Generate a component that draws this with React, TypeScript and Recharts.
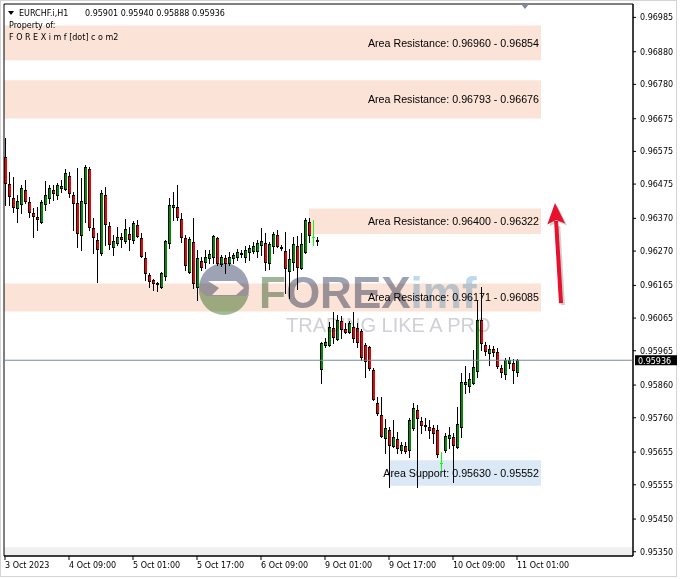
import React from 'react';
import { ComposedChart, Bar, XAxis, YAxis, ReferenceArea, ReferenceLine } from 'recharts';

// EURCHF.i H1, one value per hourly bar (3 Oct 17:00 .. 11 Oct 01:00)
const opens = [
  0.96558, 0.96475, 0.96432, 0.96402, 0.96414, 0.96457, 0.96420, 0.96386, 0.96374, 0.96359,
  0.96414, 0.96432, 0.96457, 0.96441, 0.96463, 0.96460, 0.96499, 0.96441, 0.96417, 0.96319,
  0.96417, 0.96521, 0.96340, 0.96304, 0.96264, 0.96441, 0.96346, 0.96282, 0.96294, 0.96313,
  0.96301, 0.96322, 0.96304, 0.96350, 0.96310, 0.96248, 0.96196, 0.96181, 0.96172, 0.96160,
  0.96193, 0.96294, 0.96405, 0.96405, 0.96368, 0.96310, 0.96206, 0.96298, 0.96160, 0.96239,
  0.96236, 0.96248, 0.96252, 0.96310, 0.96230, 0.96248, 0.96233, 0.96248, 0.96252, 0.96261,
  0.96252, 0.96267, 0.96270, 0.96270, 0.96288, 0.96294, 0.96233, 0.96285, 0.96319, 0.96282,
  0.96270, 0.96209, 0.96236, 0.96285, 0.96218, 0.96267, 0.96359, 0.96313, 0.96304, 0.95909,
  0.95982, 0.95982, 0.96034, 0.96001, 0.96056, 0.96031, 0.96022, 0.96037, 0.96034, 0.96025,
  0.95982, 0.95976, 0.95906, 0.95805, 0.95768, 0.95698, 0.95722, 0.95673, 0.95695, 0.95661,
  0.95673, 0.95661, 0.95728, 0.95783, 0.95750, 0.95737, 0.95731, 0.95728, 0.95722, 0.95621,
  0.95661, 0.95698, 0.95701, 0.95670, 0.95731, 0.95863, 0.95857, 0.95866, 0.95903, 0.96059,
  0.95982, 0.95958, 0.95970, 0.95961, 0.95912, 0.95894, 0.95927, 0.95927, 0.95901,
];
const highs = [
  0.96616, 0.96512, 0.96496, 0.96441, 0.96472, 0.96487, 0.96435, 0.96402, 0.96405, 0.96426,
  0.96484, 0.96472, 0.96472, 0.96478, 0.96487, 0.96521, 0.96512, 0.96450, 0.96524, 0.96493,
  0.96533, 0.96527, 0.96371, 0.96325, 0.96457, 0.96466, 0.96359, 0.96319, 0.96343, 0.96325,
  0.96368, 0.96343, 0.96362, 0.96365, 0.96325, 0.96267, 0.96203, 0.96184, 0.96175, 0.96206,
  0.96304, 0.96432, 0.96450, 0.96472, 0.96386, 0.96319, 0.96313, 0.96371, 0.96273, 0.96252,
  0.96273, 0.96273, 0.96319, 0.96313, 0.96258, 0.96258, 0.96267, 0.96264, 0.96276, 0.96273,
  0.96285, 0.96288, 0.96298, 0.96304, 0.96340, 0.96325, 0.96298, 0.96328, 0.96334, 0.96288,
  0.96328, 0.96276, 0.96313, 0.96316, 0.96325, 0.96371, 0.96371, 0.96365, 0.96313, 0.95991,
  0.96004, 0.96053, 0.96083, 0.96074, 0.96071, 0.96050, 0.96056, 0.96083, 0.96050, 0.96031,
  0.95988, 0.95979, 0.95912, 0.95823, 0.95823, 0.95756, 0.95731, 0.95753, 0.95716, 0.95685,
  0.95685, 0.95759, 0.95805, 0.95799, 0.95762, 0.95759, 0.95753, 0.95737, 0.95737, 0.95655,
  0.95713, 0.95731, 0.95713, 0.95793, 0.95897, 0.95918, 0.95897, 0.95967, 0.96120, 0.96160,
  0.95991, 0.95982, 0.95979, 0.95973, 0.95921, 0.95943, 0.95946, 0.95940, 0.95940,
];
const lows = [
  0.96411, 0.96411, 0.96389, 0.96359, 0.96386, 0.96417, 0.96374, 0.96313, 0.96334, 0.96356,
  0.96395, 0.96417, 0.96426, 0.96429, 0.96450, 0.96457, 0.96435, 0.96334, 0.96282, 0.96273,
  0.96359, 0.96334, 0.96264, 0.96175, 0.96258, 0.96288, 0.96276, 0.96258, 0.96288, 0.96282,
  0.96294, 0.96273, 0.96294, 0.96313, 0.96252, 0.96181, 0.96160, 0.96151, 0.96148, 0.96157,
  0.96181, 0.96279, 0.96365, 0.96365, 0.96298, 0.96212, 0.96203, 0.96157, 0.96120, 0.96212,
  0.96218, 0.96233, 0.96233, 0.96227, 0.96224, 0.96203, 0.96227, 0.96233, 0.96242, 0.96252,
  0.96236, 0.96242, 0.96264, 0.96252, 0.96258, 0.96212, 0.96215, 0.96264, 0.96282, 0.96273,
  0.96141, 0.96126, 0.96212, 0.96154, 0.96215, 0.96264, 0.96298, 0.96288, 0.96288, 0.95866,
  0.95976, 0.95979, 0.95988, 0.95998, 0.96004, 0.96019, 0.96019, 0.95991, 0.95976, 0.95936,
  0.95884, 0.95906, 0.95814, 0.95768, 0.95701, 0.95652, 0.95548, 0.95670, 0.95652, 0.95652,
  0.95652, 0.95640, 0.95722, 0.95548, 0.95713, 0.95722, 0.95698, 0.95682, 0.95640, 0.95600,
  0.95655, 0.95667, 0.95563, 0.95667, 0.95701, 0.95835, 0.95838, 0.95863, 0.95884, 0.95967,
  0.95952, 0.95921, 0.95949, 0.95912, 0.95884, 0.95878, 0.95912, 0.95866, 0.95888,
];
const closes = [
  0.96478, 0.96438, 0.96405, 0.96423, 0.96463, 0.96423, 0.96389, 0.96377, 0.96368, 0.96420,
  0.96441, 0.96463, 0.96447, 0.96472, 0.96469, 0.96509, 0.96447, 0.96417, 0.96325, 0.96423,
  0.96527, 0.96343, 0.96313, 0.96276, 0.96447, 0.96353, 0.96291, 0.96301, 0.96313, 0.96307,
  0.96337, 0.96307, 0.96356, 0.96316, 0.96255, 0.96203, 0.96178, 0.96172, 0.96169, 0.96203,
  0.96301, 0.96411, 0.96411, 0.96374, 0.96313, 0.96227, 0.96307, 0.96172, 0.96248, 0.96221,
  0.96252, 0.96261, 0.96316, 0.96233, 0.96252, 0.96233, 0.96252, 0.96258, 0.96267, 0.96264,
  0.96273, 0.96279, 0.96285, 0.96294, 0.96301, 0.96236, 0.96291, 0.96322, 0.96285, 0.96279,
  0.96218, 0.96245, 0.96291, 0.96221, 0.96291, 0.96365, 0.96319, 0.96313, 0.96301, 0.95988,
  0.95991, 0.96037, 0.96007, 0.96059, 0.96031, 0.96022, 0.96050, 0.96004, 0.95991, 0.95946,
  0.95933, 0.95912, 0.95817, 0.95774, 0.95704, 0.95728, 0.95676, 0.95701, 0.95667, 0.95676,
  0.95658, 0.95753, 0.95790, 0.95759, 0.95737, 0.95734, 0.95722, 0.95713, 0.95649, 0.95621,
  0.95704, 0.95707, 0.95676, 0.95741, 0.95869, 0.95869, 0.95878, 0.95915, 0.96059, 0.95988,
  0.95964, 0.95970, 0.95961, 0.95918, 0.95900, 0.95936, 0.95936, 0.95906, 0.95936,
];

const xTickIdx = [1, 17, 33, 49, 65, 81, 97, 113, 129];
const xTickLabels = ['3 Oct 2023', '4 Oct 09:00', '5 Oct 01:00', '5 Oct 17:00', '6 Oct 09:00', '9 Oct 01:00', '9 Oct 17:00', '10 Oct 09:00', '11 Oct 01:00'];
const yTicks = [
  0.96985, 0.9688, 0.9678, 0.96675, 0.96575, 0.96475, 0.9637, 0.9627, 0.96165,
  0.96065, 0.95965, 0.9586, 0.9576, 0.95655, 0.95555, 0.9545, 0.9535,
];

// drawn zones (bar index start/end, price top/bottom)
const zoneKind = ['Resistance', 'Resistance', 'Resistance', 'Resistance', 'Support'];
const zoneHigh = [0.9696, 0.96793, 0.964, 0.96171, 0.9563];
const zoneLow = [0.96854, 0.96676, 0.96322, 0.96085, 0.95552];
const zoneFrom = [0.75, 0.75, 77, 0.75, 97];
const zoneTo = [135, 135, 135, 135, 135];

const arrowFrom = { i: 140, p: 0.96111 };
const arrowTo = { i: 138.5, p: 0.96417 };

const X_DOMAIN: [number, number] = [0.75, 158];
const Y_DOMAIN: [number, number] = [0.95337, 0.97026];
const STRIP_TOP = 0.95364;

const data = opens.map((o, k) => ({ i: k + 1, o, h: highs[k], l: lows[k], c: closes[k] }));
const lastClose = closes[closes.length - 1];

const AXIS_FONT = '"DejaVu Sans", Tahoma, sans-serif';
const OBJ_FONT = '"Liberation Sans", Arial, sans-serif';

const Candle = (props: any) => {
  const { x, y, width, height, payload } = props;
  if (!payload || height == null || isNaN(y)) return null;
  const { o, h, l, c } = payload;
  const k = height / (h - l);
  const py = (v: number) => y + (h - v) * k;
  const cx = Math.round(x + width / 2);
  const doji = o === c;
  const top = Math.round(py(Math.max(o, c)));
  const bot = Math.round(py(Math.min(o, c)));
  return (
    <g shapeRendering="crispEdges">
      <line x1={cx + 0.5} x2={cx + 0.5} y1={Math.round(y)} y2={Math.round(y + height) + 1} stroke={doji ? '#00ff00' : '#000'} />
      {doji ? (
        <line x1={cx - 1} x2={cx + 2} y1={top + 0.5} y2={top + 0.5} stroke="#00ff00" />
      ) : (
        <>
          <rect x={cx - 1} y={top} width={3} height={bot - top + 1} fill="#000" />
          {bot - top >= 2 && (
            <rect x={cx} y={top + 1} width={2} height={bot - top - 1} fill={c > o ? '#008a00' : '#f00000'} />
          )}
        </>
      )}
    </g>
  );
};

const XTick = (p: any) => {
  const k = xTickIdx.indexOf(p.payload.value);
  return (
    <text x={p.x} y={p.y + 6} fontSize={8} fontFamily={AXIS_FONT} fill="#000">
      {xTickLabels[k]}
    </text>
  );
};

const PriceTag = (p: any) => {
  const vb = p.viewBox || {};
  const tx = vb.x + vb.width + 2;
  return (
    <g>
      <rect x={tx} y={vb.y - 5} width={42} height={10} fill="#000" />
      <text x={tx + 3} y={vb.y + 3.5} fontSize={8} fontFamily={AXIS_FONT} fill="#fff">
        {lastClose.toFixed(5)}
      </text>
    </g>
  );
};

const ArrowShape = (p: any) => {
  const { x1, y1, x2, y2 } = p;
  if (x1 == null) return null;
  const dx = x2 - x1;
  const dy = y2 - y1;
  const len = Math.hypot(dx, dy);
  const ux = dx / len;
  const uy = dy / len;
  const head = 21;
  const half = 9;
  const bx = x2 - ux * head;
  const by = y2 - uy * head;
  const nx = -uy;
  const ny = ux;
  const pts = `${x2},${y2} ${bx + nx * half},${by + ny * half} ${bx + ux * 4},${by + uy * 4} ${bx - nx * half},${by - ny * half}`;
  return (
    <g>
      <g transform="translate(2,2)" opacity={0.18}>
        <line x1={x1} y1={y1} x2={bx} y2={by} stroke="#000" strokeWidth={4} />
        <polygon points={pts} fill="#000" />
      </g>
      <line x1={x1} y1={y1} x2={bx + ux * 3} y2={by + uy * 3} stroke="#e8102c" strokeWidth={4} />
      <polygon points={pts} fill="#e8102c" />
    </g>
  );
};

const Watermark = () => (
  <svg width={681} height={579} style={{ position: 'absolute', left: 0, top: 0, mixBlendMode: 'multiply', pointerEvents: 'none' }}>
    <g opacity={0.85}>
      <circle cx={224} cy={288} r={25} fill="#8c93a8" />
      <path d="M199,290 A25,25 0 0,0 249,290 L249,296 L206,296 Z" fill="#8fb384" />
      <path d="M208,281 L236,281 L244,288 L236,295 L212,295 L219,288 Z" fill="#ffffff" />
      <text x={259} y={308} fontSize={44} fontWeight="bold" fontFamily={OBJ_FONT}>
        <tspan fill="#8fa98a">F</tspan>
        <tspan fill="#8c93a6">OREX</tspan>
        <tspan fill="#b3d3ea">imf</tspan>
      </text>
      <text x={286} y={332} fontSize={20} fontFamily={OBJ_FONT} fill="#c7c9ce">
        TRADING LIKE A PRO
      </text>
    </g>
  </svg>
);

const Header = () => (
  <svg width={681} height={579} style={{ position: 'absolute', left: 0, top: 0, pointerEvents: 'none' }}>
    <polygon points="8,11 14,11 11,15" fill="#000" />
    <text x={19} y={16} fontSize={8} fontFamily={AXIS_FONT} fill="#000">EURCHF.i,H1</text>
    <text x={85} y={16} fontSize={8} fontFamily={AXIS_FONT} fill="#000">0.95901 0.95940 0.95888 0.95936</text>
    <text x={9} y={28} fontSize={8} fontFamily={AXIS_FONT} fill="#000">Property of:</text>
    <text x={9} y={40} fontSize={8} fontFamily={AXIS_FONT} fill="#000">F O R E X i m f [dot] c o m2</text>
    <polygon points="521,4 529,4 525,9" fill="#7d8a99" />
  </svg>
);

export default function App() {
  return (
    <div style={{ position: 'absolute', left: 0, top: 0, width: 681, height: 579, background: '#fff' }}>
      <div style={{ position: 'absolute', left: 0, top: 0, width: 677, height: 577, border: '1px solid #d4d4d4', boxSizing: 'border-box' }} />
      <ComposedChart width={681} height={579} data={data} margin={{ top: 4, right: 4, bottom: 0, left: 4 }}>
        <XAxis
          type="number"
          dataKey="i"
          domain={X_DOMAIN}
          ticks={xTickIdx}
          interval={0}
          allowDataOverflow
          height={23}
          tickSize={4}
          tick={<XTick />}
          axisLine={{ stroke: '#000' }}
          tickLine={{ stroke: '#000' }}
        />
        <YAxis
          orientation="right"
          type="number"
          domain={Y_DOMAIN}
          ticks={yTicks}
          interval={0}
          allowDataOverflow
          width={44}
          tickSize={3}
          tickMargin={4}
          tick={{ fontSize: 8, fill: '#000', fontFamily: AXIS_FONT }}
          tickFormatter={(v: number) => v.toFixed(5)}
          axisLine={{ stroke: '#000' }}
          tickLine={{ stroke: '#000' }}
        />
        <ReferenceArea x1={X_DOMAIN[0]} x2={X_DOMAIN[1]} y1={Y_DOMAIN[0]} y2={STRIP_TOP} fill="#f0f0f0" fillOpacity={1} stroke="none" />
        {zoneHigh.map((hi, k) => (
          <ReferenceArea
            key={k}
            x1={zoneFrom[k]}
            x2={zoneTo[k]}
            y1={zoneLow[k]}
            y2={hi}
            fill={zoneKind[k] === 'Support' ? '#dbe9f7' : '#fbe3d7'}
            fillOpacity={1}
            stroke="none"
            label={{
              value: `Area ${zoneKind[k]}: ${hi.toFixed(5)} - ${zoneLow[k].toFixed(5)}`,
              position: 'insideRight',
              offset: 2,
              fill: '#000',
              fontSize: 10.7,
              fontFamily: OBJ_FONT,
            }}
          />
        ))}
        <ReferenceLine y={lastClose} stroke="#778899" label={(p: any) => <PriceTag {...p} />} />
        <Bar dataKey={(d: any) => [d.l, d.h]} barSize={3} shape={(p: any) => <Candle {...p} />} isAnimationActive={false} />
        <ReferenceLine
          segment={[{ x: arrowFrom.i, y: arrowFrom.p }, { x: arrowTo.i, y: arrowTo.p }]}
          ifOverflow="visible"
          shape={(p: any) => <ArrowShape {...p} />}
        />
        <ReferenceArea x1={X_DOMAIN[0]} x2={X_DOMAIN[1]} y1={Y_DOMAIN[0]} y2={Y_DOMAIN[1]} fill="none" stroke="#000" />
      </ComposedChart>
      <Watermark />
      <Header />
    </div>
  );
}
